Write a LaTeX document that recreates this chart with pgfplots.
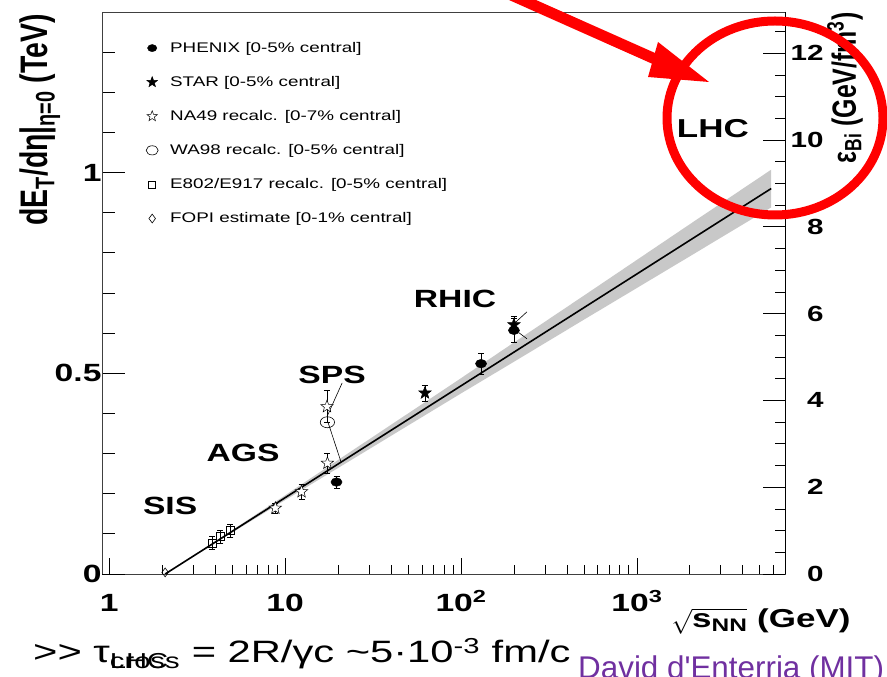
\documentclass[border=0pt]{standalone}
\usepackage{fontspec}
\setmainfont{Liberation Sans}[FakeStretch=1.35]
\newfontfamily\plainfont{Liberation Sans}
\usepackage{pgfplots}
\pgfplotsset{compat=1.18}
\pgfkeys{/pgf/number format/assume math mode=true}
\definecolor{bandgray}{RGB}{200,200,200}
\definecolor{davidpurple}{RGB}{112,48,160}
\pgfdeclareplotmark{fivestar}{%
 \pgfpathmoveto{\pgfpointpolar{90}{\pgfplotmarksize}}%
 \pgfpathlineto{\pgfpointpolar{126}{0.42\pgfplotmarksize}}%
 \pgfpathlineto{\pgfpointpolar{162}{\pgfplotmarksize}}%
 \pgfpathlineto{\pgfpointpolar{198}{0.42\pgfplotmarksize}}%
 \pgfpathlineto{\pgfpointpolar{234}{\pgfplotmarksize}}%
 \pgfpathlineto{\pgfpointpolar{270}{0.42\pgfplotmarksize}}%
 \pgfpathlineto{\pgfpointpolar{306}{\pgfplotmarksize}}%
 \pgfpathlineto{\pgfpointpolar{342}{0.42\pgfplotmarksize}}%
 \pgfpathlineto{\pgfpointpolar{18}{\pgfplotmarksize}}%
 \pgfpathlineto{\pgfpointpolar{54}{0.42\pgfplotmarksize}}%
 \pgfpathclose
 \pgfusepathqfillstroke}
\pgfplotsset{
  errb/.style={error bars/.cd, y dir=both, y explicit,
    error bar style={line width=0.6bp}, error mark options={rotate=90, mark size=3bp, line width=0.6bp}, /pgfplots/.cd},
}
\begin{document}
\begin{tikzpicture}
\path[use as bounding box] (0,0) rectangle (887bp,677bp);
% main axis
\begin{axis}[at={(102bp,103bp)}, anchor=south west, scale only axis,
  width=683bp, height=562bp, xmode=log, xmin=0.91, xmax=6950,
  tick align=inside, tick style={black, line width=0.8bp},
  ymin=0, ymax=1.4,
  axis line style={line width=0.8bp, black!75},
  xtick={1,10,100,1000}, xticklabels={1,10,10\textsuperscript{2},10\textsuperscript{3}},
  minor xtick={2,3,4,5,6,7,8,9,20,30,40,50,60,70,80,90,200,300,400,500,600,700,800,900,2000,3000,4000,5000,6000},
  xtick pos=bottom, ytick=\empty,
  major tick length=16bp, minor tick length=9bp,
  xticklabel style={font=\bfseries\fontsize{25}{25}\selectfont, text height=18bp, text depth=0pt, yshift=-16bp},
  legend style={at={(rel axis cs:0.0644,0.950)}, anchor=north west, draw=none, fill=none,
    inner sep=0pt, font=\fontsize{14}{16}\selectfont, row sep=18.5bp,
    /tikz/every odd column/.append style={column sep=10bp}},
  legend cell align=left,
  legend image code/.code={\path[draw=none,fill=none] (-6bp,0bp) rectangle (6bp,0.1bp); \draw[#1] plot coordinates {(0bp,0bp)};},
]
\addlegendimage{only marks, mark=*, mark size=3.6bp, mark options={xscale=1.3, fill=black, draw=black}}
\addlegendentry{PHENIX [0-5\% central]}
\addlegendimage{only marks, mark=fivestar, mark size=5.5bp, mark options={fill=black, draw=black, line width=0.5bp}}
\addlegendentry{STAR [0-5\% central]}
\addlegendimage{only marks, mark=fivestar, mark size=5.5bp, mark options={fill=white, draw=black, line width=0.5bp}}
\addlegendentry{NA49 recalc. [0-7\% central]}
\addlegendimage{only marks, mark=o, mark size=4.6bp, mark options={xscale=1.3, draw=black, line width=0.6bp}}
\addlegendentry{WA98 recalc. [0-5\% central]}
\addlegendimage{only marks, mark=square, mark size=3.4bp, mark options={draw=black, line width=0.6bp}}
\addlegendentry{E802/E917 recalc. [0-5\% central]}
\addlegendimage{only marks, mark=diamond, mark size=4.4bp, mark options={draw=black, line width=0.6bp}}
\addlegendentry{FOPI estimate [0-1\% central]}
% band
\addplot[fill=bandgray, draw=none, forget plot] coordinates {
 (2.6,0.027) (5,0.1092) (10,0.196) (20,0.284) (50,0.3999) (100,0.4878) (200,0.5767)
 (500,0.6936) (1000,0.7825) (2000,0.8714) (5800,1.0072)
 (5800,0.9132) (2000,0.7914) (1000,0.7125) (500,0.6336) (200,0.5287) (100,0.4498)
 (50,0.3699) (20,0.264) (10,0.184) (5,0.1032) (2.6,0.027)} -- cycle;
% fit line
\addplot[black, line width=1.6bp, forget plot] coordinates {(2.08,0) (5800,0.9602)};
% leader lines
\addplot[black, line width=0.6bp, forget plot] coordinates {(21.1,0.476) (17.3,0.392)};
\addplot[black, line width=0.6bp, forget plot] coordinates {(17.5,0.379) (20.8,0.279)};
\addplot[black, line width=0.6bp, forget plot] coordinates {(203,0.626) (237,0.653)};
\addplot[black, line width=0.6bp, forget plot] coordinates {(213.6,0.601) (237,0.586)};
% FOPI
\addplot[forget plot, only marks, mark=diamond, mark size=4.4bp, mark options={draw=black, fill=white, line width=0.6bp}]
 coordinates {(2.08,0.004)};
% E802/E917
\addplot[forget plot, only marks, mark=square, mark size=4bp, mark options={draw=black, fill=white, line width=0.6bp}, errb]
 coordinates {(3.85,0.077) +- (0,0.016) (4.29,0.093) +- (0,0.016) (4.89,0.108) +- (0,0.017)};
% NA49
\addplot[forget plot, only marks, mark=fivestar, mark size=6.5bp, mark options={draw=black, fill=white, line width=0.5bp}, errb]
 coordinates {(8.8,0.164) +- (0,0.012) (12.4,0.205) +- (0,0.018) (17.4,0.276) +- (0,0.025) (17.3,0.417) +- (0,0.04)};
% WA98
\addplot[forget plot, only marks, mark=o, mark size=5.5bp, mark options={xscale=1.3, draw=black, fill=white, line width=0.6bp}]
 coordinates {(17.4,0.378)};
% PHENIX
\addplot[forget plot, only marks, mark=*, mark size=4.3bp, mark options={xscale=1.3, draw=black, fill=black}, errb]
 coordinates {(19.6,0.229) +- (0,0.015) (130,0.524) +- (0,0.027) (200,0.607) +- (0,0.031)};
% STAR
\addplot[forget plot, only marks, mark=fivestar, mark size=6.5bp, mark options={draw=black, fill=black, line width=0.5bp}, errb]
 coordinates {(62.4,0.451) +- (0,0.02) (200,0.621) +- (0,0.02)};
% labels
\node[font=\bfseries\fontsize{25}{25}\selectfont] at (axis cs:2.22,0.170) {SIS};
\node[font=\bfseries\fontsize{25}{25}\selectfont] at (axis cs:5.77,0.302) {AGS};
\node[font=\bfseries\fontsize{25}{25}\selectfont] at (axis cs:18.5,0.496) {SPS};
\node[font=\bfseries\fontsize{25}{25}\selectfont] at (axis cs:92.5,0.686) {RHIC};
\node[font=\bfseries\fontsize{26}{26}\selectfont] at (axis cs:2704,1.110) {LHC};
\end{axis}
% left y axis
\begin{axis}[at={(102bp,103bp)}, anchor=south west, scale only axis,
  width=683bp, height=562bp, xmode=log, xmin=0.91, xmax=6950,
  tick align=inside, tick style={black, line width=0.8bp},
  ymin=0, ymax=1.4, axis x line=none, axis y line*=left,
  axis line style={line width=0.8bp, black!75},
  ytick={0,0.5,1}, yticklabels={0,0.5,1},
  minor ytick={0.1,0.2,0.3,0.4,0.6,0.7,0.8,0.9,1.1,1.2,1.3},
  major tick length=23bp, minor tick length=13bp,
  yticklabel style={font=\bfseries\fontsize{25}{25}\selectfont, xshift=3bp}]
\addplot[draw=none, forget plot] coordinates {(1,0)};
\end{axis}
% right y axis
\begin{axis}[at={(102bp,103bp)}, anchor=south west, scale only axis,
  width=683bp, height=562bp, xmode=log, xmin=0.91, xmax=6950,
  tick align=inside, tick style={black, line width=0.8bp},
  ymin=0, ymax=12.95, axis x line=none, axis y line*=right,
  axis line style={line width=0.8bp, black},
  ytick={0,2,4,6,8,10,12},
  minor ytick={0.5,1,1.5,2.5,3,3.5,4.5,5,5.5,6.5,7,7.5,8.5,9,9.5,10.5,11,11.5,12.5},
  major tick length=22bp, minor tick length=10bp,
  yticklabel style={font=\bfseries\fontsize{22}{22}\selectfont, anchor=east, xshift=42bp}]
\addplot[draw=none, forget plot] coordinates {(1,0)};
\end{axis}
% axis titles
\node[rotate=90] at (40bp,557bp) {\scalebox{1}[1.35]{\plainfont\bfseries\fontsize{28.5}{28.5}\selectfont dE\textsubscript{T}/dη|\textsubscript{η=0} (TeV)}};
\node[rotate=90] at (845bp,589bp) {\scalebox{1}[1.35]{\plainfont\bfseries\fontsize{25}{25}\selectfont ε\textsubscript{Bi} (GeV/fm\textsuperscript{3})}};
\node[font=\bfseries\fontsize{26}{26}\selectfont] at (761bp,56bp) {$\sqrt{\hbox{\bfseries\fontsize{26}{26}\selectfont s\textsubscript{NN}}}$ (GeV)};
% slide text
\node[anchor=base west, inner sep=0pt, font=\fontsize{31}{31}\selectfont] at (33bp,15bp)
 {{>}{>} τ\textsubscript{\rlap{LHC}cross} = 2R/γc \textasciitilde5·10\textsuperscript{-3} fm/c};
\node[anchor=base west, inner sep=0pt, text=davidpurple, font=\plainfont\fontsize{31.5}{31.5}\selectfont] at (578bp,-1.5bp)
 {David d'Enterria (MIT)};
% red annotation
\draw[red, line width=11bp] (500bp,687bp) -- (655bp,618bp);
\fill[red] (658bp,635bp) -- (709bp,595bp) -- (648bp,600bp) -- cycle;
\draw[red, line width=9bp] (775bp,559bp) ellipse [x radius=108bp, y radius=97bp];
\end{tikzpicture}
\end{document}
